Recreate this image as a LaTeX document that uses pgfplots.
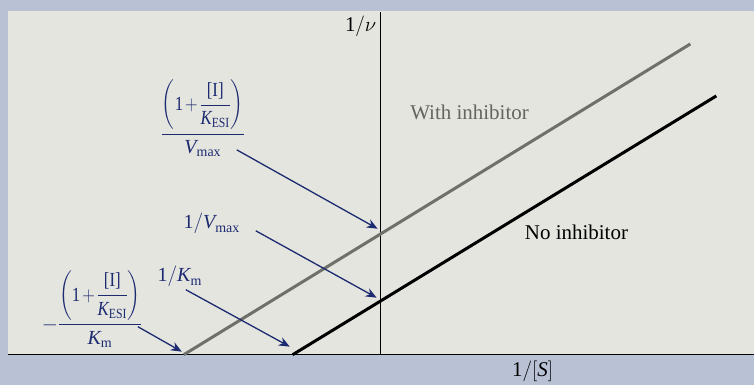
\documentclass[border=0pt]{standalone}
\usepackage{amsmath}
\usepackage{graphicx}
\usepackage{pgfplots}
\pgfplotsset{compat=1.18}
\usepackage{fontspec}
\setmainfont{Liberation Serif}
\usetikzlibrary{arrows.meta}

\definecolor{frame}{RGB}{184,194,212}
\definecolor{panel}{RGB}{229,229,224}
\definecolor{navy}{RGB}{28,42,112}
\definecolor{inhib}{RGB}{112,112,106}
\definecolor{inhibtext}{RGB}{100,100,96}

% Lineweaver-Burk lines (x = 1/[S], y = 1/v)
\pgfplotstableread{
x y
-0.88 0.00
3.36 2.59
}\noinhib
\pgfplotstableread{
x y
-1.97 0.00
3.10 3.11
}\withinhib

% symbols set in the text face
\newcommand{\Vmax}{\textit{V}_{\text{max}}}
\newcommand{\Km}{\textit{K}_{\text{m}}}
\newcommand{\KESI}{\textit{K}_{\text{ESI}}}
\newcommand{\inhibfactor}{\scalebox{0.84}[1]{$\displaystyle
  \left(\rule[-21pt]{0pt}{52pt}\text{1}\mkern2mu{+}\mkern2mu\dfrac{\text{[I]}}{\KESI}\right)$}}

\begin{document}
\begin{tikzpicture}
\begin{axis}[
  scale only axis,
  width=755pt, height=385pt,
  xmin=-3.81, xmax=3.74,
  ymin=-0.30, ymax=3.55,
  hide axis,
  clip=false,
]
% background
\fill[frame] (axis cs:-3.81,-0.30) rectangle (axis cs:3.74,3.55);
\fill[panel] (axis cs:-3.73,0) rectangle (axis cs:3.74,3.44);

% axes
\draw[black, line width=1.4pt] (axis cs:-3.73,0) -- (axis cs:3.74,0);
\draw[black, line width=1.4pt] (axis cs:0,0) -- (axis cs:0,3.43);

% data lines
\addplot[inhib, line width=3pt, no marks] table[x=x,y=y] {\withinhib};
\addplot[black, line width=3pt, no marks] table[x=x,y=y] {\noinhib};

% annotation arrows
\begin{scope}[navy, line width=1.3pt, -{Stealth[length=11pt,width=9pt]}]
\draw (axis cs:-1.44,2.05) -- (axis cs:-0.03,1.26);
\draw (axis cs:-1.25,1.24) -- (axis cs:-0.04,0.57);
\draw (axis cs:-1.95,0.65) -- (axis cs:-0.91,0.08);
\draw (axis cs:-2.43,0.28) -- (axis cs:-1.99,0.03);
\end{scope}

% axis and series labels
\begin{scope}[font=\fontsize{21}{24}\selectfont]
\node at (axis cs:-0.20,3.29) {$\text{1}/\nu$};
\node at (axis cs:1.52,-0.17) {$\text{1}/[\textit{S}]$};
\node[inhibtext] at (axis cs:0.89,2.43) {With inhibitor};
\node at (axis cs:1.96,1.22) {No inhibitor};
\end{scope}

% intercept labels
\begin{scope}[navy, font=\fontsize{20}{24}\selectfont]
\node at (axis cs:-1.78,2.37)
  {$\displaystyle\frac{\inhibfactor}{\Vmax}$};
\node at (axis cs:-1.69,1.31) {$\text{1}/\Vmax$};
\node at (axis cs:-2.01,0.78) {$\text{1}/\Km$};
\node at (axis cs:-2.89,0.46)
  {$\displaystyle-\frac{\inhibfactor}{\Km}$};
\end{scope}
\end{axis}
\end{tikzpicture}
\end{document}
